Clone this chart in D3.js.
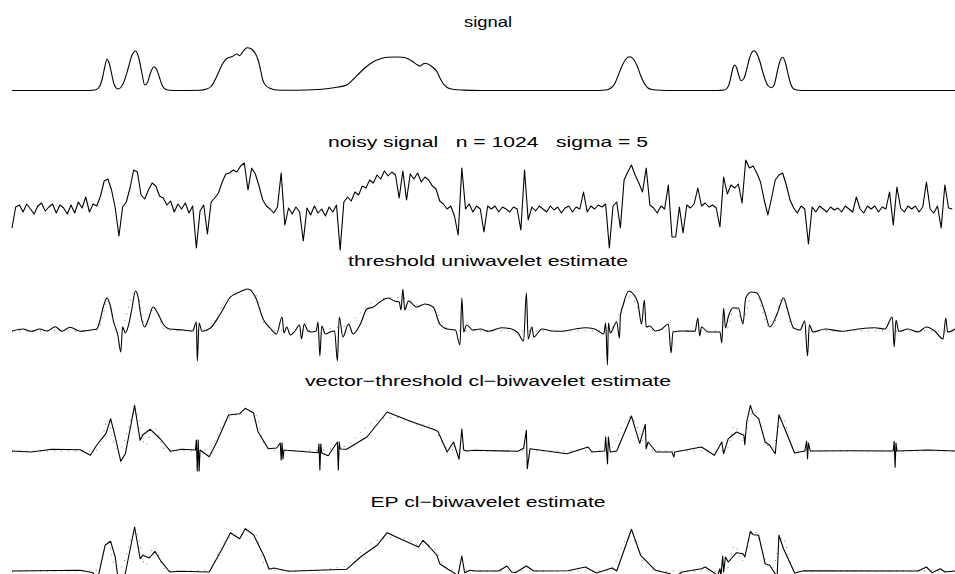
<!DOCTYPE html>
<html>
<head>
<meta charset="utf-8">
<script src="https://cdnjs.cloudflare.com/ajax/libs/d3/7.8.5/d3.min.js"></script>
<style>
  body { margin: 0; background: #fff; }
  .title { font-family: "Liberation Sans", Arial, Helvetica, sans-serif; font-size: 15px; fill: #000; white-space: pre; }
</style>
</head>
<body>
<div id="chart"></div>
<script>
// Wavelet denoising example: true signal, noisy version and three estimates

var titles = ["signal", "noisy signal   n = 1024   sigma = 5", "threshold uniwavelet estimate",
  "vector\u2212threshold cl\u2212biwavelet estimate", "EP cl\u2212biwavelet estimate"];
var titleWidths = [48, 320, 280, 366, 235];

// true signal, [sample index, value]
var signal = [[1,0],[60,0],[85,0],[92,0.8],[96,4],[99,12],[101.5,23],[104,31.2],[106.5,27],[109,17],[111.5,7],[114,2.5],[116,1.5],
  [119,3],[123,10],[127,22],[131,35],[135,39.5],[139,31],[142,17],[145,5.5],[148,8],[151,17],[155,23.8],[158,21],[161,13],[164,5],
  [167,1.5],[172,0.3],[180,0],[205,0.3],[212,1.5],[217,4],[221,10],[225,18],[229,26],[234,32],[240,34],[245,36.5],[248,34.8],
  [252,39.5],[256,42.8],[260,42],[262,40.5],[265,37],[268,30.5],[271,19],[273,10.5],[277,4.5],[281,2.2],[288,0.5],[300,0.2],
  [320,0.5],[340,1.5],[355,3.5],[364,5.5],[371,11],[378,17.5],[385,23.5],[393,28.8],[400,31.5],[408,33.2],[418,33.5],[425,33.2],
  [431,31.5],[436,28.8],[441,25.5],[444,24.5],[447,26.5],[449,27.2],[452,26.5],[455,25],[459,22],[462,18.8],[465,13],[468.5,7.2],
  [473,3],[479,1.2],[490,0.4],[510,0],[630,0],[645,0.5],[650,2],[655,7],[659,16],[663,25],[667,31.5],[671,33.8],[675,31.5],
  [679,25],[683,15],[687,7],[691,2.5],[695,1],[705,0.2],[720,0],[765,0],[774,0.5],[778,4],[781,14],[783,22],[785,25.5],[787,23],
  [789.5,15],[792,9.8],[795,12],[798,21],[801,32],[803.5,38],[806,39.8],[809,37],[812,30],[815,20],[818,11],[821,5],[825,2.8],
  [828,6],[831,18],[834,29],[837,33.2],[840,28],[843,16],[846,6],[849,1.5],[854,0.3],[862,0],[1024,0]];

// noisy observations, every 4th sample (index 1, 5, 9, ...)
var noisyStep = 4;
var noisy = [
  -18, 3, 5, -2, 6, 1, -4, 4, 7, -1, 3, 6, -3, 5, 2, -4,
  5, -3, 8, 2, 13, -2, 6, 4, 14, 29, 31, 20, 2, -26, 3, 8,
  22, 40, 38, 15, 11, 20, 27, 24, 14, 12, 5, 9, -2, 6, 1, 7,
  -3, 4, -38, -1, 5, -24, 8, 12, 17, 28, 36, 37, 40, 38, 44, 47,
  20, 42, 36, 24, 10, 4, 1, -3, 3, 37, -15, 2, -4, 3, -2, -31,
  2, -5, 4, -3, 1, -6, 3, -2, 5, -40, 8, 13, 9, 18, 15, 24,
  22, 30, 27, 35, 31, 39, 34, 38, 35, 12, 39, 10, 36, 31, 37, 28,
  33, 30, 24, 21, 9, 6, 1, 4, -6, -25, 42, 1, 6, -2, 4, 1,
  -22, 4, 1, 4, -2, 3, 1, -2, 3, 1, -20, 40, -10, 3, -1, 4,
  1, -2, 4, 0, 3, -3, 2, 4, -2, 3, 1, 18, -2, 4, 1, 5,
  3, 6, -38, 4, 8, -18, 30, 38, 45, 35, 27, 18, 42, 5, 2, -3,
  4, 1, 25, -27, -27, 3, -23, 5, 2, 6, 22, 4, 7, 3, 5, 2,
  -17, 33, 16, 25, 22, 26, 7, 50, 42, 44, 37, 28, 10, -5, 12, 30,
  35, 37, 25, 10, 2, -3, 4, 1, -34, 3, -2, 4, 1, -2, 3, 0,
  2, -2, 4, 1, -2, 13, 1, -3, 4, 1, 4, -2, 3, 1, 18, -15,
  23, 2, -2, 4, 1, 4, -2, 3, 28, 1, -3, 4, -18, 25, 2, 1];

var thresholdEst = [[1,0],[13,2],[22,-0.3],[31,2],[39,0],[48,4.3],[55,-0.3],[64,3.7],[75,-0.3],[86,1],[93,2],[96,9],[100,24],
  [104,33],[108,24],[111,10],[116,-5],[119,-21],[121,4],[124,-2],[128,8],[131,22],[135,40],[138,33],[140,20],[145,4],[149,12],
  [154,24],[159,18],[165,7],[172,2],[187,1],[197,0],[201,9],[202,-30],[204,8],[207,-0.3],[216,2.7],[227,17],[238,34],[248,39],
  [257,42],[265,34],[274,11],[281,3],[288,-3],[294,14],[296,-2],[299,4],[303,-4],[308,0],[313,6],[315,-8],[318,7],[322,0],
  [326,-1],[331,0],[333,9],[335,-25],[337,5],[341,-3],[346,-1],[351,0],[354,-30],[356,14],[360,-6],[366,7],[371,-3],[379,7],
  [386,22],[393,24],[400,29],[409,33],[416,30],[421,29],[423,21],[425,42],[427,21],[431,30],[440,24],[449,27],[458,24],[465,7],
  [473,2],[482,1],[487,-14],[489,33],[491,-1],[494,6],[501,1],[509,2],[518,-0.3],[532,3.3],[543,2],[550,-2],[556,-10],[559,38],
  [561,-8],[565,4],[567,-6],[576,2],[587,0],[597,-0.3],[612,2],[623,3.3],[633,2],[643,-3],[645,8],[647,-34],[648,8],[650,-2],
  [657,9],[660,-7],[661,15],[664,26],[670,40],[675,37],[680,28],[684,7],[687,31],[689,4],[693,5],[699,0],[706,2],[713,7],
  [716,-22],[718,-1],[728,0],[742,-0.3],[745,13],[747,-5],[749,4],[756,-1],[769,-1],[771,-12],[773,23],[775,3],[778,14],
  [783,23],[789,23],[794,7],[797,33],[803,39],[809,38],[818,18],[823,4],[831,17],[838,33],[843,19],[849,3],[856,1],[861,10],
  [864,-25],[866,6],[870,-1],[883,2],[901,-0.3],[919,2],[937,3.3],[948,2],[956,14],[958,-16],[960,11],[963,-0.3],[973,2],
  [984,-1],[993,4],[1002,0],[1011,-8],[1014,13],[1016,-1],[1024,2]];

var vectorEst = [[1,0],[22,-1],[44,1.7],[75,1.3],[86,-4.3],[93,6],[103,17.7],[108,32.3],[113,14],[119,-10.3],[124,-2.7],
  [134,45.7],[140,10.7],[143,16.3],[151,21.7],[162,12],[173,-0.3],[185,1.7],[200,1],[201,11],[202,-20],[203,11],[204,-20],
  [205,1],[215,-5.7],[223,8.7],[236,36],[248,37.3],[254,42.7],[263,38],[268,19],[279,2.3],[288,3],[292,8],[293,-9],[294,8],
  [295,-8],[296,1],[299,0.7],[333,-1.7],[334,7],[335,-19],[336,7],[337,-2],[344,-4.7],[354,9],[355,-19],[356,9],[357,2],
  [364,1.7],[386,14],[408,39],[433,29.7],[458,21.7],[463,19.7],[473,-1],[480,9],[486,-8.3],[489,22],[491,1],[494,0],
  [503,0.7],[550,-0.3],[556,2.7],[559,20.7],[560,-17.7],[563,2.3],[603,-2.7],[626,4],[630,-1],[644,0],[645,14],[647,-12.7],
  [648,14],[650,-1],[657,0],[673,35],[682,7.7],[688,26.7],[689,2.3],[691,9],[700,-1],[717,-1],[719,-6],[720,-1],[749,4],
  [763,-4.3],[771,9],[773,-2.7],[778,12.3],[787,19],[795,15.7],[796,6.3],[798,29],[802,45.7],[805,37.3],[811,32.3],[818,9],
  [823,5.7],[829,-2.7],[833,36.3],[840,20.7],[850,-2],[861,0],[863,9.7],[864,-7.7],[865,8],[867,0],[910,0.3],[957,0],
  [958,9.7],[959,-16.3],[960,8],[961,0],[995,1],[1024,0]];

var epEst = [[1,0],[75,0.7],[89,-1.7],[93,-12],[102,25.7],[108,29.7],[113,14],[117,-14],[124,-2],[134,44],[140,12.3],
  [143,15.7],[150,13],[156,19.7],[162,10.7],[172,-1],[183,-0.3],[215,-1],[229,22.3],[238,38.3],[241,36.3],[248,32.3],
  [254,42.3],[263,36.3],[274,15.7],[280,1.7],[285,3],[301,-0.3],[364,1.7],[379,14],[397,25.7],[408,38.3],[422,32.3],[442,24],
  [447,30.7],[454,24],[462,15.7],[465,7.3],[474,1.7],[482,-2.7],[484,-8],[489,15],[492,-1.7],[498,0.7],[503,0],[529,0],[538,5],
  [543,-1],[547,-1.7],[559,5],[567,0],[604,0.3],[623,4],[635,-2],[652,3],[657,0],[673,41.7],[683,15.7],[699,0.7],[715,-2.7],
  [720,-6],[728,-1],[749,2.3],[753,4],[764,-2.7],[766,-6],[769,2.3],[770,-5],[772,15],[773,-1],[775,14],[778,9],[787,18.3],
  [794,17.3],[796,14],[802,39.7],[805,36.3],[811,35.7],[818,7.3],[823,5.7],[829,-2.7],[831,-6],[833,35.7],[838,22.3],[850,-2],
  [860,0.3],[984,0],[993,4],[999,-1.7],[1008,2.3],[1013,-1],[1024,0]];

var width = 955, height = 574;
var baselines = [90.5, 210, 331, 451, 571];
var titleY = [27, 147, 266, 385.5, 507];

var svg = d3.select("#chart").append("svg")
    .attr("width", width)
    .attr("height", height);

var x = d3.scaleLinear().domain([1, 1024]).range([12, 955]);

function yScale(i) {
  return d3.scaleLinear().domain([0, 50]).range([baselines[i], baselines[i] - 50]);
}

titles.forEach(function(t, i) {
  svg.append("text")
    .attr("class", "title")
    .attr("x", 488)
    .attr("y", titleY[i])
    .attr("text-anchor", "middle")
    .attr("xml:space", "preserve")
    .attr("textLength", titleWidths[i])
    .attr("lengthAdjust", "spacingAndGlyphs")
    .text(t);
});

function drawLine(data, i, curve, style) {
  var y = yScale(i);
  var line = d3.line()
      .x(function(d) { return x(d[0]); })
      .y(function(d) { return y(d[1]); })
      .curve(curve);
  var p = svg.append("path")
      .datum(data)
      .attr("fill", "none")
      .attr("stroke", style.color || "#000")
      .attr("stroke-width", style.width || 1)
      .attr("stroke-linejoin", "round")
      .attr("d", line);
  if (style.dash) p.attr("stroke-dasharray", style.dash);
}

// panel 1: signal
drawLine(signal, 0, d3.curveMonotoneX, {width: 1.1});

// panel 2: noisy signal
var noisyPts = noisy.map(function(v, k) { return [1 + k * noisyStep, v]; });
drawLine(noisyPts, 1, d3.curveLinear, {width: 1.1});

// panels 3-5: true signal dotted underneath each estimate
[2, 3, 4].forEach(function(i) {
  drawLine(signal, i, d3.curveMonotoneX, {color: "#777", width: 1, dash: "1,6"});
});
drawLine(thresholdEst, 2, d3.curveMonotoneX, {width: 1.1});
drawLine(vectorEst, 3, d3.curveLinear, {width: 1.1});
drawLine(epEst, 4, d3.curveLinear, {width: 1.1});
</script>
</body>
</html>
